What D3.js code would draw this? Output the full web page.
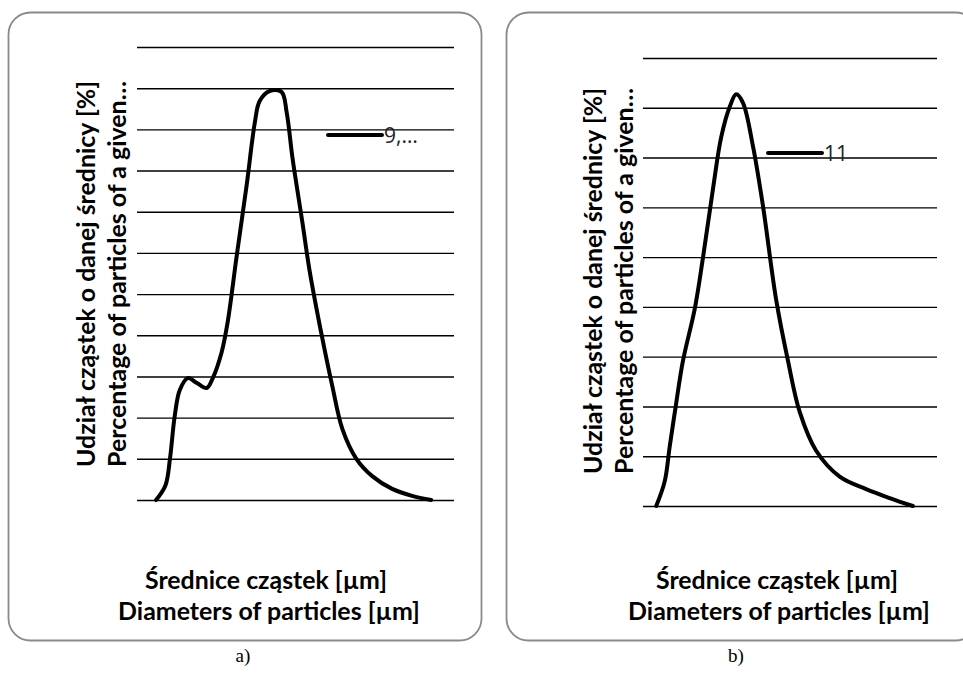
<!DOCTYPE html>
<html lang="pl">
  <head>
    <title>rozklad czastek</title>
    <meta charset="utf-8">
    <style>
      body { margin: 0; background: #fff; }
      svg { display: block; }
    </style>
  </head>
  <body>
<svg width="963" height="673"></svg>
<script src="https://d3js.org/d3.v7.min.js"></script>
<script>

// diameter position along the axis (0..100 % of axis width) and share [%]
var diamA = [6.0, 9.0, 10.4, 11.9, 13.5, 16.0, 18.9, 22.0, 23.9, 26.7, 28.6, 31.4, 34.6, 37.1, 38.7, 41.8, 45.6, 47.2, 49.1, 52.2, 54.4, 58.5, 61.6, 64.8, 69.2, 74.2, 80.5, 86.8, 92.8];
var shareA = [0, 0.36, 1.0, 2.04, 2.67, 2.96, 2.84, 2.72, 2.96, 3.59, 4.32, 5.90, 7.65, 9.13, 9.69, 9.93, 9.91, 9.42, 8.28, 6.73, 5.59, 3.91, 2.77, 1.72, 1.0, 0.58, 0.27, 0.10, 0];

var diamB = [4.5, 7.4, 9.1, 11.3, 13.6, 17.6, 20.4, 23.8, 26.6, 29.5, 31.7, 34.0, 37.4, 40.8, 45.3, 49.3, 53.3, 58.9, 66.9, 75.9, 83.9, 91.8];
var shareB = [0, 0.5, 1.2, 2.07, 2.92, 3.96, 4.99, 6.37, 7.41, 8.02, 8.27, 8.10, 7.23, 6.03, 4.14, 2.92, 1.89, 1.11, 0.59, 0.34, 0.16, 0];

var ticksA = [0, 1, 2, 3, 4, 5, 6, 7, 8, 9, 10, 11];
var ticksB = [0, 1, 2, 3, 4, 5, 6, 7, 8, 9];

var seriesA = "9,…", seriesB = "11";
var yTitle = ["Udział cząstek o danej średnicy [%]", "Percentage of particles of a given…"];
var xTitle = ["Średnice cząstek [µm]", "Diameters of particles [µm]"];
var captions = ["a)", "b)"];

var svg = d3.select("svg");
var font = "Lato, 'Open Sans', sans-serif";

var panels = [
  {x: diamA, y: shareA, ticks: ticksA, name: seriesA, cap: captions[0],
   box: [8.5, 12.5, 473, 628], px: [137, 454], py: [500, 47],
   leg: [328, 382, 135], yt: [86, 117, 274], xt: [266, 269], capX: 243},
  {x: diamB, y: shareB, ticks: ticksB, name: seriesB, cap: captions[1],
   box: [506.5, 12.5, 471, 628], px: [643, 937], py: [506, 58],
   leg: [768, 822, 153], yt: [593, 624, 281], xt: [777, 779], capX: 736}
];

// shrink/grow a text node until it covers the wanted width
function fit(sel, w) {
  var n = sel.node(), fs = parseFloat(sel.attr("font-size"));
  var l = n.getComputedTextLength();
  sel.attr("font-size", (fs * w / l).toFixed(2));
}

panels.forEach(function(p) {
  var g = svg.append("g");

  g.append("rect")
      .attr("x", p.box[0]).attr("y", p.box[1])
      .attr("width", p.box[2]).attr("height", p.box[3])
      .attr("rx", 22).attr("ry", 22)
      .attr("fill", "#fff")
      .attr("stroke", "#8a8a8a")
      .attr("stroke-width", 1.8);

  var x = d3.scaleLinear().domain([0, 100]).range(p.px);
  var y = d3.scaleLinear().domain([0, d3.max(p.ticks)]).range(p.py);

  // horizontal gridlines
  var grid = g.append("g")
      .attr("transform", "translate(" + p.px[0] + ",0)")
      .call(d3.axisLeft(y).tickValues(p.ticks).tickSize(-(p.px[1] - p.px[0])).tickFormat(""));
  grid.select(".domain").remove();
  grid.selectAll(".tick line").attr("stroke", "#000").attr("stroke-width", 1.4);

  var pts = p.x.map(function(d, i) { return [d, p.y[i]]; });
  var line = d3.line()
      .x(function(d) { return x(d[0]); })
      .y(function(d) { return y(d[1]); })
      .curve(d3.curveCatmullRom.alpha(0.5));

  g.append("path")
      .datum(pts)
      .attr("d", line)
      .attr("fill", "none")
      .attr("stroke", "#000")
      .attr("stroke-width", 4)
      .attr("stroke-linejoin", "round")
      .attr("stroke-linecap", "round");

  // legend
  g.append("line")
      .attr("x1", p.leg[0]).attr("x2", p.leg[1])
      .attr("y1", p.leg[2]).attr("y2", p.leg[2])
      .attr("stroke", "#000").attr("stroke-width", 4).attr("stroke-linecap", "round");
  g.append("text")
      .attr("x", p.leg[1] + 2).attr("y", p.leg[2] + 7.5)
      .attr("font-family", "'Open Sans', sans-serif")
      .attr("font-size", 21)
      .attr("fill", "#222")
      .text(p.name);

  // y title, two rotated lines
  yTitle.forEach(function(t, i) {
    var tx = g.append("text")
        .attr("transform", "translate(" + p.yt[i] + "," + p.yt[2] + ") rotate(-90)")
        .attr("text-anchor", "middle")
        .attr("dy", "0.35em")
        .attr("font-family", font)
        .attr("font-weight", "bold")
        .attr("font-size", 20)
        .attr("fill", "#000")
        .text(t);
    fit(tx, 386);
  });

  // x title
  xTitle.forEach(function(t, i) {
    var tx = g.append("text")
        .attr("x", p.xt[i]).attr("y", i ? 620 : 589)
        .attr("text-anchor", "middle")
        .attr("font-family", font)
        .attr("font-weight", "bold")
        .attr("font-size", 20)
        .attr("fill", "#000")
        .text(t);
    fit(tx, i ? 302 : 242);
  });

  svg.append("text")
      .attr("x", p.capX).attr("y", 662)
      .attr("text-anchor", "middle")
      .attr("font-family", "'Liberation Serif', serif")
      .attr("font-size", 19)
      .attr("fill", "#000")
      .text(p.cap);
});

</script>
  </body>
</html>
